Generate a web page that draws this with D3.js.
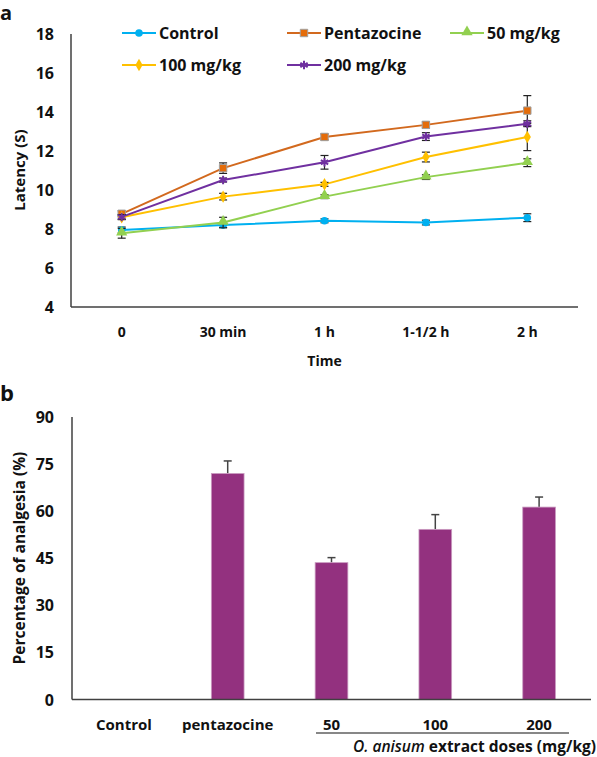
<!DOCTYPE html>
<html>
<head>
<meta charset="utf-8">
<script src="https://cdn.jsdelivr.net/npm/d3@7"></script>
<style>
  body { margin: 0; background: #fff; }
  svg text { font-family: "Open Sans", sans-serif; font-weight: 700; fill: #111; }
</style>
</head>
<body>
<div id="chart"></div>
<script>
// ---- panel a data ----
var times = ["0", "30 min", "1 h", "1-1/2 h", "2 h"];
var seriesNames = ["Control", "Pentazocine", "50 mg/kg", "100 mg/kg", "200 mg/kg"];
var control     = [7.95, 8.2, 8.42, 8.33, 8.58];
var pentazocine = [8.78, 11.12, 12.72, 13.34, 14.07];
var dose50      = [7.78, 8.33, 9.66, 10.66, 11.4];
var dose100     = [8.6, 9.66, 10.29, 11.69, 12.72];
var dose200     = [8.62, 10.51, 11.42, 12.74, 13.4];
var controlErr     = [0.15, 0.12, 0.1, 0.12, 0.2];
var pentazocineErr = [0.15, 0.27, 0.15, 0.15, 0.77];
var dose50Err      = [0.25, 0.27, 0.1, 0.12, 0.2];
var dose100Err     = [0.12, 0.17, 0.1, 0.25, 0.7];
var dose200Err     = [0.12, 0.1, 0.35, 0.2, 0.15];
var latencyTicks = [4, 6, 8, 10, 12, 14, 16, 18];

// ---- panel b data ----
var groups = ["Control", "pentazocine", "50", "100", "200"];
var analgesia    = [0, 72, 43.6, 54.2, 61.3];
var analgesiaErr = [0, 4, 1.6, 4.7, 3.2];
var analgesiaTicks = [0, 15, 30, 45, 60, 75, 90];

var colors = ["#00B0F0", "#D2691E", "#92D050", "#FFC000", "#7030A0"];
var symbols = [d3.symbolCircle, d3.symbolSquare, d3.symbolTriangle, d3.symbolDiamond, d3.symbolAsterisk];

var svg = d3.select("#chart").append("svg")
  .attr("width", 597).attr("height", 757);

var axisColor = "#404040";

// ================= panel a =================
var xa = d3.scalePoint().domain(times).range([71, 578]).padding(0.5);
var ya = d3.scaleLinear().domain([4, 18]).range([307, 34]);

svg.append("text").attr("x", 0).attr("y", 20).style("font-size", "20px").text("a");

// axes
svg.append("line").attr("x1", 71).attr("x2", 71).attr("y1", ya(18)).attr("y2", ya(4))
  .attr("stroke", axisColor).attr("stroke-width", 1.5);
svg.append("line").attr("x1", 71).attr("x2", 578).attr("y1", ya(4)).attr("y2", ya(4))
  .attr("stroke", axisColor).attr("stroke-width", 1.5);

svg.append("g").selectAll("text").data(latencyTicks).enter().append("text")
  .attr("x", 54).attr("y", function(d) { return ya(d) + 6; })
  .attr("text-anchor", "end").style("font-size", "16px")
  .text(function(d) { return d; });

svg.append("g").selectAll("text").data(times).enter().append("text")
  .attr("x", function(d) { return xa(d); }).attr("y", 337)
  .attr("text-anchor", "middle").style("font-size", "14px")
  .text(function(d) { return d; });

svg.append("text").attr("x", 324.5).attr("y", 366).attr("text-anchor", "middle")
  .style("font-size", "14px").text("Time");

svg.append("text").attr("transform", "translate(25,170) rotate(-90)")
  .attr("text-anchor", "middle").style("font-size", "15px").text("Latency (S)");

var allSeries = [control, pentazocine, dose50, dose100, dose200];
var allErr = [controlErr, pentazocineErr, dose50Err, dose100Err, dose200Err];

var line = d3.line()
  .x(function(d, i) { return xa(times[i]); })
  .y(function(d) { return ya(d); });

function drawMarker(g, k, x, y) {
  var sym = d3.symbol().type(symbols[k]);
  if (k == 0) {
    g.append("path").attr("d", sym.size(45)()).attr("transform", "translate(" + x + "," + y + ")")
      .attr("fill", colors[k]);
  } else if (k == 1) {
    g.append("path").attr("d", sym.size(55)()).attr("transform", "translate(" + x + "," + y + ")")
      .attr("fill", "#E46C0A").attr("stroke", "#A0A0A0").attr("stroke-width", 1);
  } else if (k == 2) {
    g.append("path").attr("d", sym.size(55)()).attr("transform", "translate(" + x + "," + (y - 1) + ")")
      .attr("fill", colors[k]);
  } else if (k == 3) {
    g.append("path").attr("d", sym.size(45)()).attr("transform", "translate(" + x + "," + y + ")")
      .attr("fill", colors[k]);
  } else {
    g.append("path").attr("d", sym.size(50)()).attr("transform", "translate(" + x + "," + y + ")")
      .attr("fill", "none").attr("stroke", colors[k]).attr("stroke-width", 2);
  }
}

allSeries.forEach(function(vals, k) {
  var g = svg.append("g");
  g.append("path").datum(vals).attr("d", line)
    .attr("fill", "none").attr("stroke", colors[k]).attr("stroke-width", 2);
  vals.forEach(function(v, i) {
    var x = xa(times[i]);
    var e = allErr[k][i];
    var eg = g.append("g").attr("stroke", "#222").attr("stroke-width", 1.2);
    eg.append("line").attr("x1", x).attr("x2", x).attr("y1", ya(v - e)).attr("y2", ya(v + e));
    eg.append("line").attr("x1", x - 4).attr("x2", x + 4).attr("y1", ya(v - e)).attr("y2", ya(v - e));
    eg.append("line").attr("x1", x - 4).attr("x2", x + 4).attr("y1", ya(v + e)).attr("y2", ya(v + e));
    drawMarker(g, k, x, ya(v));
  });
});

// legend
var legendPos = [[122, 33], [287, 33], [450, 33], [122, 65], [287, 65]];
seriesNames.forEach(function(name, k) {
  var p = legendPos[k];
  var g = svg.append("g");
  g.append("line").attr("x1", p[0]).attr("x2", p[0] + 34).attr("y1", p[1]).attr("y2", p[1])
    .attr("stroke", colors[k]).attr("stroke-width", 2);
  drawMarker(g, k, p[0] + 17, p[1]);
  g.append("text").attr("x", p[0] + 37).attr("y", p[1] + 6).style("font-size", "16px").text(name);
});

// ================= panel b =================
var xb = d3.scaleBand().domain(groups).range([72, 591]);
var yb = d3.scaleLinear().domain([0, 90]).range([699.5, 417]);
var barW = xb.bandwidth() * 0.315;

svg.append("text").attr("x", 0).attr("y", 401).style("font-size", "22px").text("b");

svg.append("line").attr("x1", 72).attr("x2", 72).attr("y1", yb(90)).attr("y2", yb(0))
  .attr("stroke", axisColor).attr("stroke-width", 1.5);

svg.append("g").selectAll("text").data(analgesiaTicks).enter().append("text")
  .attr("x", 54).attr("y", function(d) { return yb(d) + 6; })
  .attr("text-anchor", "end").style("font-size", "16px")
  .text(function(d) { return d; });

svg.append("text").attr("transform", "translate(25,558) rotate(-90)")
  .attr("text-anchor", "middle").style("font-size", "15.5px").text("Percentage of analgesia (%)");

var bars = svg.append("g");
groups.forEach(function(gname, i) {
  if (analgesia[i] <= 0) return;
  var cx = xb(gname) + xb.bandwidth() / 2;
  var e = analgesiaErr[i];
  bars.append("line").attr("x1", cx).attr("x2", cx).attr("y1", yb(analgesia[i])).attr("y2", yb(analgesia[i] + e))
    .attr("stroke", "#444").attr("stroke-width", 1.5);
  bars.append("line").attr("x1", cx - 4).attr("x2", cx + 4).attr("y1", yb(analgesia[i] + e)).attr("y2", yb(analgesia[i] + e))
    .attr("stroke", "#444").attr("stroke-width", 1.5);
  bars.append("rect").attr("x", cx - barW / 2).attr("y", yb(analgesia[i]))
    .attr("width", barW).attr("height", yb(0) - yb(analgesia[i]))
    .attr("fill", "#93317F").attr("stroke", "#C99BC0").attr("stroke-width", 0.8);
});

svg.append("line").attr("x1", 72).attr("x2", 591).attr("y1", yb(0)).attr("y2", yb(0))
  .attr("stroke", axisColor).attr("stroke-width", 1.5);

svg.append("g").selectAll("text").data(groups).enter().append("text")
  .attr("x", function(d) { return xb(d) + xb.bandwidth() / 2; }).attr("y", 730)
  .attr("text-anchor", "middle").style("font-size", "15px")
  .text(function(d) { return d; });

svg.append("line").attr("x1", 316).attr("x2", 569).attr("y1", 733).attr("y2", 733)
  .attr("stroke", "#111").attr("stroke-width", 1.2);

var dose = svg.append("text").attr("x", 596).attr("y", 752).attr("text-anchor", "end").style("font-size", "15.5px");
dose.append("tspan").style("font-style", "italic").style("font-weight", "600").text("O. anisum");
dose.append("tspan").text(" extract doses (mg/kg)");
</script>
</body>
</html>
